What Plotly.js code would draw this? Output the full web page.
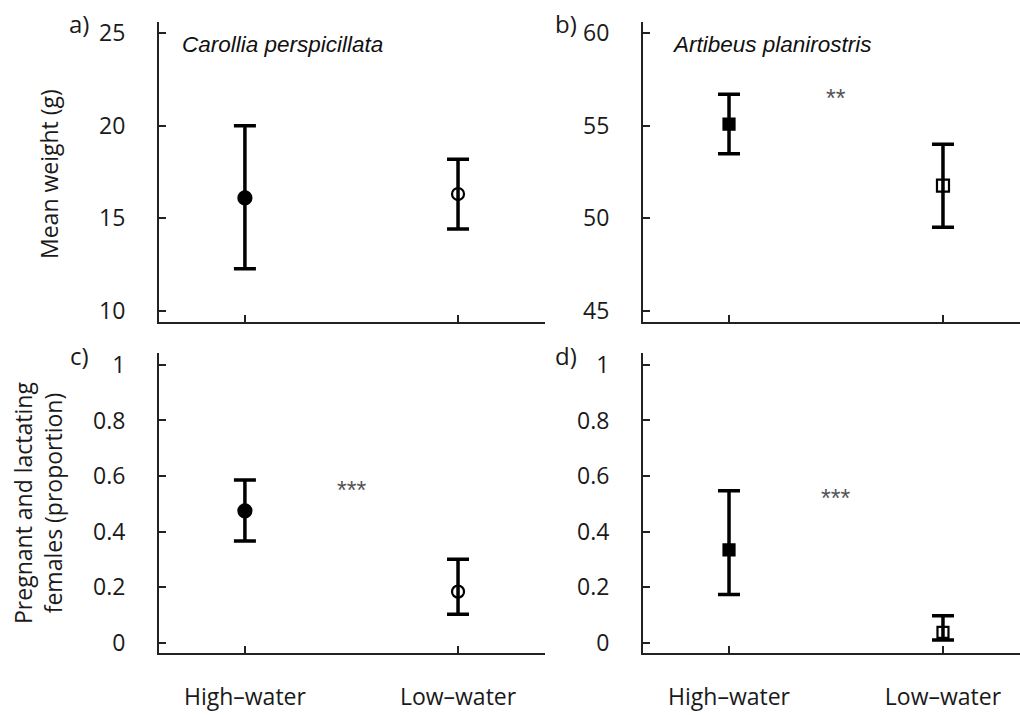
<!DOCTYPE html>
<html>
<head>
<meta charset="utf-8">
<script src="https://cdn.plot.ly/plotly-3.0.1.min.js"></script>
<style>html,body{margin:0;padding:0;background:#fff;}#chart{width:1020px;height:715px;}</style>
</head>
<body>
<div id="chart"></div>
<script>
// ---- data ----
const categories = ['High–water', 'Low–water'];

const weightCarolliaMean  = [16.1, 16.31];
const weightCarolliaUpper = [20.0, 18.19];
const weightCarolliaLower = [12.28, 14.43];

const weightArtibeusMean  = [55.08, 51.76];
const weightArtibeusUpper = [56.69, 54.0];
const weightArtibeusLower = [53.48, 49.52];

const reproCarolliaMean  = [0.475, 0.184];
const reproCarolliaUpper = [0.586, 0.3005];
const reproCarolliaLower = [0.3665, 0.103];

const reproArtibeusMean  = [0.334, 0.037];
const reproArtibeusUpper = [0.547, 0.097];
const reproArtibeusLower = [0.174, 0.010];

const speciesNames = ['Carollia perspicillata', 'Artibeus planirostris'];
const panelLabels = ['a)', 'b)', 'c)', 'd)'];
const sigWeightArtibeus = '**';
const sigReproCarollia = '***';
const sigReproArtibeus = '***';

// ---- helpers ----
function diff(a, b) { return a.map((v, i) => v - b[i]); }

function trace(mean, upper, lower, xa, ya, symbols, sizes) {
  return {
    type: 'scatter', mode: 'markers',
    x: categories, y: mean, xaxis: xa, yaxis: ya,
    showlegend: false, hoverinfo: 'skip',
    marker: { symbol: symbols, size: sizes, color: '#000', opacity: 1,
              line: { color: '#000', width: 2.2 } },
    error_y: { type: 'data', symmetric: false,
               array: diff(upper, mean), arrayminus: diff(mean, lower),
               color: '#000', thickness: 3.5, width: 11 }
  };
}

const data = [
  trace(weightCarolliaMean, weightCarolliaUpper, weightCarolliaLower, 'x', 'y', ['circle', 'circle-open'], [13, 12]),
  trace(weightArtibeusMean, weightArtibeusUpper, weightArtibeusLower, 'x2', 'y2', ['square', 'square-open'], [11, 12]),
  trace(reproCarolliaMean, reproCarolliaUpper, reproCarolliaLower, 'x3', 'y3', ['circle', 'circle-open'], [13, 12]),
  trace(reproArtibeusMean, reproArtibeusUpper, reproArtibeusLower, 'x4', 'y4', ['square', 'square-open'], [11, 11])
];

const tickFont = { family: 'Open Sans, Noto Sans, sans-serif', size: 23, color: '#1a1a1a' };

function xaxis(domain, range, anchor, showLabels) {
  return {
    domain: domain, range: range, anchor: anchor, type: 'category',
    showline: true, linecolor: '#222', linewidth: 2, mirror: false,
    ticks: 'inside', ticklen: 7, tickwidth: 2, tickcolor: '#222',
    showgrid: false, zeroline: false, fixedrange: true,
    showticklabels: showLabels, tickfont: tickFont, ticklabelstandoff: 22
  };
}
function yaxis(domain, range, anchor, tickvals, ticktext) {
  return {
    domain: domain, range: range, anchor: anchor,
    showline: true, linecolor: '#222', linewidth: 2, mirror: false,
    ticks: 'inside', ticklen: 7, tickwidth: 2, tickcolor: '#222',
    showgrid: false, zeroline: false, fixedrange: true,
    tickvals: tickvals, ticktext: ticktext, tickfont: tickFont, ticklabelstandoff: 27
  };
}

const xLeft = [0.1559, 0.5343];
const xRight = [0.6304, 1.0];
const yTop = [0.5497, 0.9692];
const yBot = [0.0863, 0.5063];

const annFont = { family: 'Open Sans, Noto Sans, sans-serif', size: 23, color: '#1a1a1a' };
const labFont = { family: 'Open Sans, Noto Sans, sans-serif', size: 24, color: '#1a1a1a' };
const spFont = { family: 'Liberation Sans, Arial, sans-serif', size: 22.5, color: '#111', style: 'italic' };
const starFont = { family: 'Liberation Sans, Arial, sans-serif', size: 25, color: '#555' };

const layout = {
  width: 1020, height: 715,
  margin: { l: 0, r: 0, t: 0, b: 0 },
  paper_bgcolor: '#fff', plot_bgcolor: '#fff',
  showlegend: false,
  xaxis: xaxis(xLeft, [-0.403, 1.408], 'y', false),
  yaxis: yaxis(yTop, [9.41, 25.59], 'x', [10, 15, 20, 25], ['10', '15', '20', '25']),
  xaxis2: xaxis(xRight, [-0.402, 1.36], 'y2', false),
  yaxis2: yaxis(yTop, [44.41, 60.59], 'x2', [45, 50, 55, 60], ['45', '50', '55', '60']),
  xaxis3: xaxis(xLeft, [-0.403, 1.408], 'y3', true),
  yaxis3: yaxis(yBot, [-0.038, 1.043], 'x3', [0, 0.2, 0.4, 0.6, 0.8, 1], ['0', '0.2', '0.4', '0.6', '0.8', '1']),
  xaxis4: xaxis(xRight, [-0.402, 1.36], 'y4', true),
  yaxis4: yaxis(yBot, [-0.038, 1.043], 'x4', [0, 0.2, 0.4, 0.6, 0.8, 1], ['0', '0.2', '0.4', '0.6', '0.8', '1']),
  annotations: [
    { text: panelLabels[0], xref: 'paper', yref: 'paper', x: 79 / 1020, y: 1 - 24 / 715, xanchor: 'center', yanchor: 'middle', showarrow: false, font: labFont },
    { text: panelLabels[1], xref: 'paper', yref: 'paper', x: 566 / 1020, y: 1 - 24 / 715, xanchor: 'center', yanchor: 'middle', showarrow: false, font: labFont },
    { text: panelLabels[2], xref: 'paper', yref: 'paper', x: 79 / 1020, y: 1 - 356 / 715, xanchor: 'center', yanchor: 'middle', showarrow: false, font: labFont },
    { text: panelLabels[3], xref: 'paper', yref: 'paper', x: 566 / 1020, y: 1 - 356 / 715, xanchor: 'center', yanchor: 'middle', showarrow: false, font: labFont },
    { text: speciesNames[0], xref: 'paper', yref: 'paper', x: 180 / 1020, y: 1 - 44 / 715, xanchor: 'left', yanchor: 'middle', showarrow: false, font: spFont },
    { text: speciesNames[1], xref: 'paper', yref: 'paper', x: 670 / 1020, y: 1 - 44 / 715, xanchor: 'left', yanchor: 'middle', showarrow: false, font: spFont },
    { text: 'Mean weight (g)', xref: 'paper', yref: 'paper', x: 49 / 1020, y: 1 - 174 / 715, xanchor: 'center', yanchor: 'middle', textangle: -90, showarrow: false, font: annFont },
    { text: 'Pregnant and lactating<br>females (proportion)', xref: 'paper', yref: 'paper', x: 38 / 1020, y: 1 - 503 / 715, xanchor: 'center', yanchor: 'middle', textangle: -90, showarrow: false, font: annFont },
    { text: sigWeightArtibeus, xref: 'x2', yref: 'y2', x: 0.5, y: 56.8, xanchor: 'center', yanchor: 'middle', yshift: -6, showarrow: false, font: starFont },
    { text: sigReproCarollia, xref: 'x3', yref: 'y3', x: 0.5, y: 0.572, xanchor: 'center', yanchor: 'middle', yshift: -6, showarrow: false, font: starFont },
    { text: sigReproArtibeus, xref: 'x4', yref: 'y4', x: 0.5, y: 0.542, xanchor: 'center', yanchor: 'middle', yshift: -6, showarrow: false, font: starFont }
  ]
};

Plotly.newPlot('chart', data, layout, { displayModeBar: false, staticPlot: true });
</script>
</body>
</html>
